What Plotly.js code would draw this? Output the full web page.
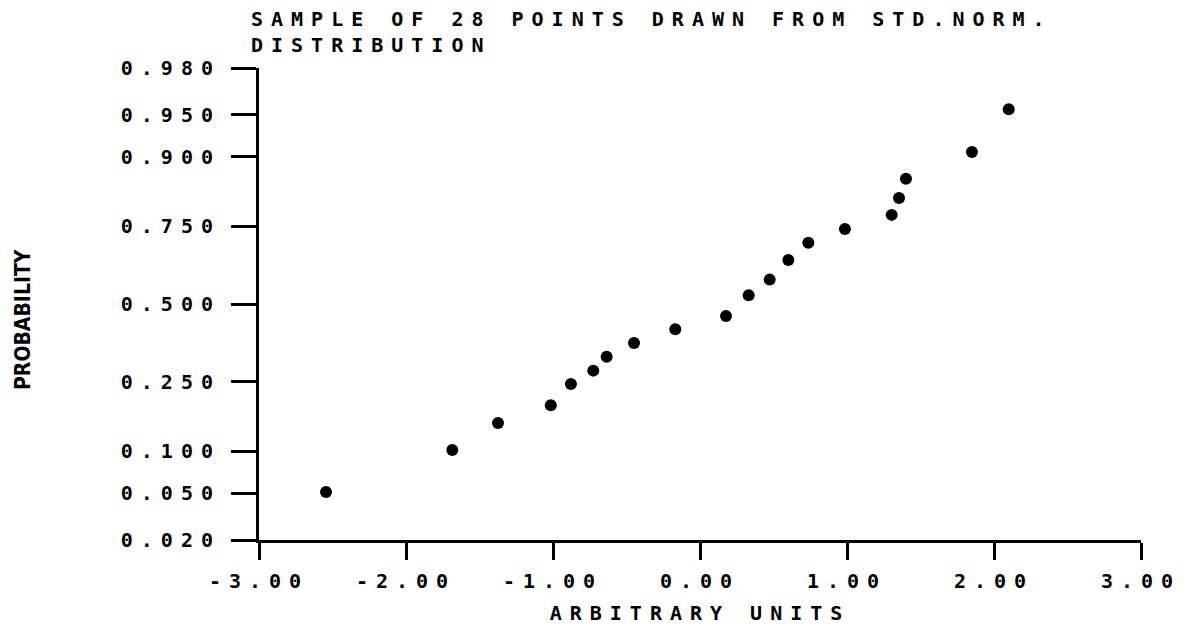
<!DOCTYPE html>
<html>
<head>
<meta charset="utf-8">
<script src="https://cdn.plot.ly/plotly-3.0.1.min.js"></script>
<style>
html, body { margin: 0; padding: 0; background: #ffffff; }
#chart { width: 1190px; height: 627px; }
.xtick text, .ytick text, .gtitle, .xtitle { letter-spacing: 8px; }
</style>
</head>
<body>
<div id="chart"></div>
<script>
// Sample values (arbitrary units) and their plotting probabilities
const xValues = [-2.544, -1.685, -1.374, -1.015, -0.878, -0.726, -0.635, -0.449, -0.168, 0.177,
                 0.331, 0.474, 0.601, 0.737, 0.986, 1.304, 1.354, 1.401, 1.850, 2.100];
const probValues = [0.051, 0.102, 0.150, 0.189, 0.243, 0.281, 0.323, 0.367, 0.413, 0.458,
                    0.530, 0.584, 0.649, 0.703, 0.743, 0.781, 0.822, 0.862, 0.907, 0.955];

const yTickProbs = [0.02, 0.05, 0.10, 0.25, 0.50, 0.75, 0.90, 0.95, 0.98];
const yTickLabels = ["0.020", "0.050", "0.100", "0.250", "0.500", "0.750", "0.900", "0.950", "0.980"];
const xTickVals = [-3, -2, -1, 0, 1, 2, 3];
const xTickLabels = ["-3.00", "-2.00", "-1.00", "0.00", "1.00", "2.00", "3.00"];

// Inverse standard normal CDF (Acklam) -> normal-probability axis scale
function probit(p) {
  const a = [-3.969683028665376e+01, 2.209460984245205e+02, -2.759285104469687e+02,
             1.383577518672690e+02, -3.066479806614716e+01, 2.506628277459239e+00];
  const b = [-5.447609879822406e+01, 1.615858368580409e+02, -1.556989798598866e+02,
             6.680131188771972e+01, -1.328068155288572e+01];
  const c = [-7.784894002430293e-03, -3.223964580411365e-01, -2.400758277161838e+00,
             -2.549732539343734e+00, 4.374664141464968e+00, 2.938163982698783e+00];
  const d = [7.784695709041462e-03, 3.224671290700398e-01, 2.445134137142996e+00,
             3.754408661907416e+00];
  const plow = 0.02425, phigh = 1 - plow;
  let q, r;
  if (p < plow) {
    q = Math.sqrt(-2 * Math.log(p));
    return (((((c[0]*q + c[1])*q + c[2])*q + c[3])*q + c[4])*q + c[5]) /
           ((((d[0]*q + d[1])*q + d[2])*q + d[3])*q + 1);
  } else if (p <= phigh) {
    q = p - 0.5; r = q*q;
    return (((((a[0]*r + a[1])*r + a[2])*r + a[3])*r + a[4])*r + a[5])*q /
           (((((b[0]*r + b[1])*r + b[2])*r + b[3])*r + b[4])*r + 1);
  } else {
    q = Math.sqrt(-2 * Math.log(1 - p));
    return -(((((c[0]*q + c[1])*q + c[2])*q + c[3])*q + c[4])*q + c[5]) /
            ((((d[0]*q + d[1])*q + d[2])*q + d[3])*q + 1);
  }
}

const plotterFont = { family: "DejaVu Sans Mono, monospace", size: 20, color: "#000000", weight: "bold" };

const trace = {
  type: "scatter",
  mode: "markers",
  x: xValues,
  y: probValues.map(probit),
  marker: { symbol: "circle", size: 12, color: "#000000", line: { width: 0 } },
  hoverinfo: "skip",
  showlegend: false,
  cliponaxis: false
};

const layout = {
  width: 1190,
  height: 627,
  paper_bgcolor: "#ffffff",
  plot_bgcolor: "#ffffff",
  margin: { l: 259, r: 49, t: 68, b: 87, pad: 0 },
  showlegend: false,
  font: plotterFont,
  title: {
    text: "SAMPLE OF 28 POINTS DRAWN FROM STD.NORM.<br>DISTRIBUTION",
    xref: "container", x: 251 / 1190, xanchor: "left",
    yref: "container", y: 0.959, yanchor: "top",
    font: plotterFont
  },
  xaxis: {
    range: [-3, 3],
    tickmode: "array",
    tickvals: xTickVals,
    ticktext: xTickLabels,
    ticks: "outside",
    ticklen: 17,
    tickwidth: 3,
    tickcolor: "#000000",
    showline: true,
    linecolor: "#000000",
    linewidth: 3,
    showgrid: false,
    zeroline: false,
    tickfont: plotterFont,
    ticklabelstandoff: 4,
    title: { text: "ARBITRARY UNITS", font: plotterFont, standoff: 14 },
    automargin: false,
    fixedrange: true
  },
  yaxis: {
    range: [probit(0.02), probit(0.98)],
    tickmode: "array",
    tickvals: yTickProbs.map(probit),
    ticktext: yTickLabels,
    ticks: "outside",
    ticklen: 25,
    tickwidth: 3,
    tickcolor: "#000000",
    showline: true,
    linecolor: "#000000",
    linewidth: 3,
    showgrid: false,
    zeroline: false,
    tickfont: plotterFont,
    ticklabelstandoff: 6,
    automargin: false,
    fixedrange: true
  },
  annotations: [{
    text: "PROBABILITY",
    xref: "paper", yref: "paper",
    x: (23 - 259) / 882, y: (540 - 320) / 472,
    xanchor: "center", yanchor: "middle",
    textangle: -90,
    showarrow: false,
    font: { family: "DejaVu Sans Condensed, Liberation Sans Narrow, DejaVu Sans, sans-serif", size: 21, color: "#000000", weight: "bold" }
  }]
};

Plotly.newPlot("chart", [trace], layout, { displayModeBar: false, staticPlot: true });
</script>
</body>
</html>
